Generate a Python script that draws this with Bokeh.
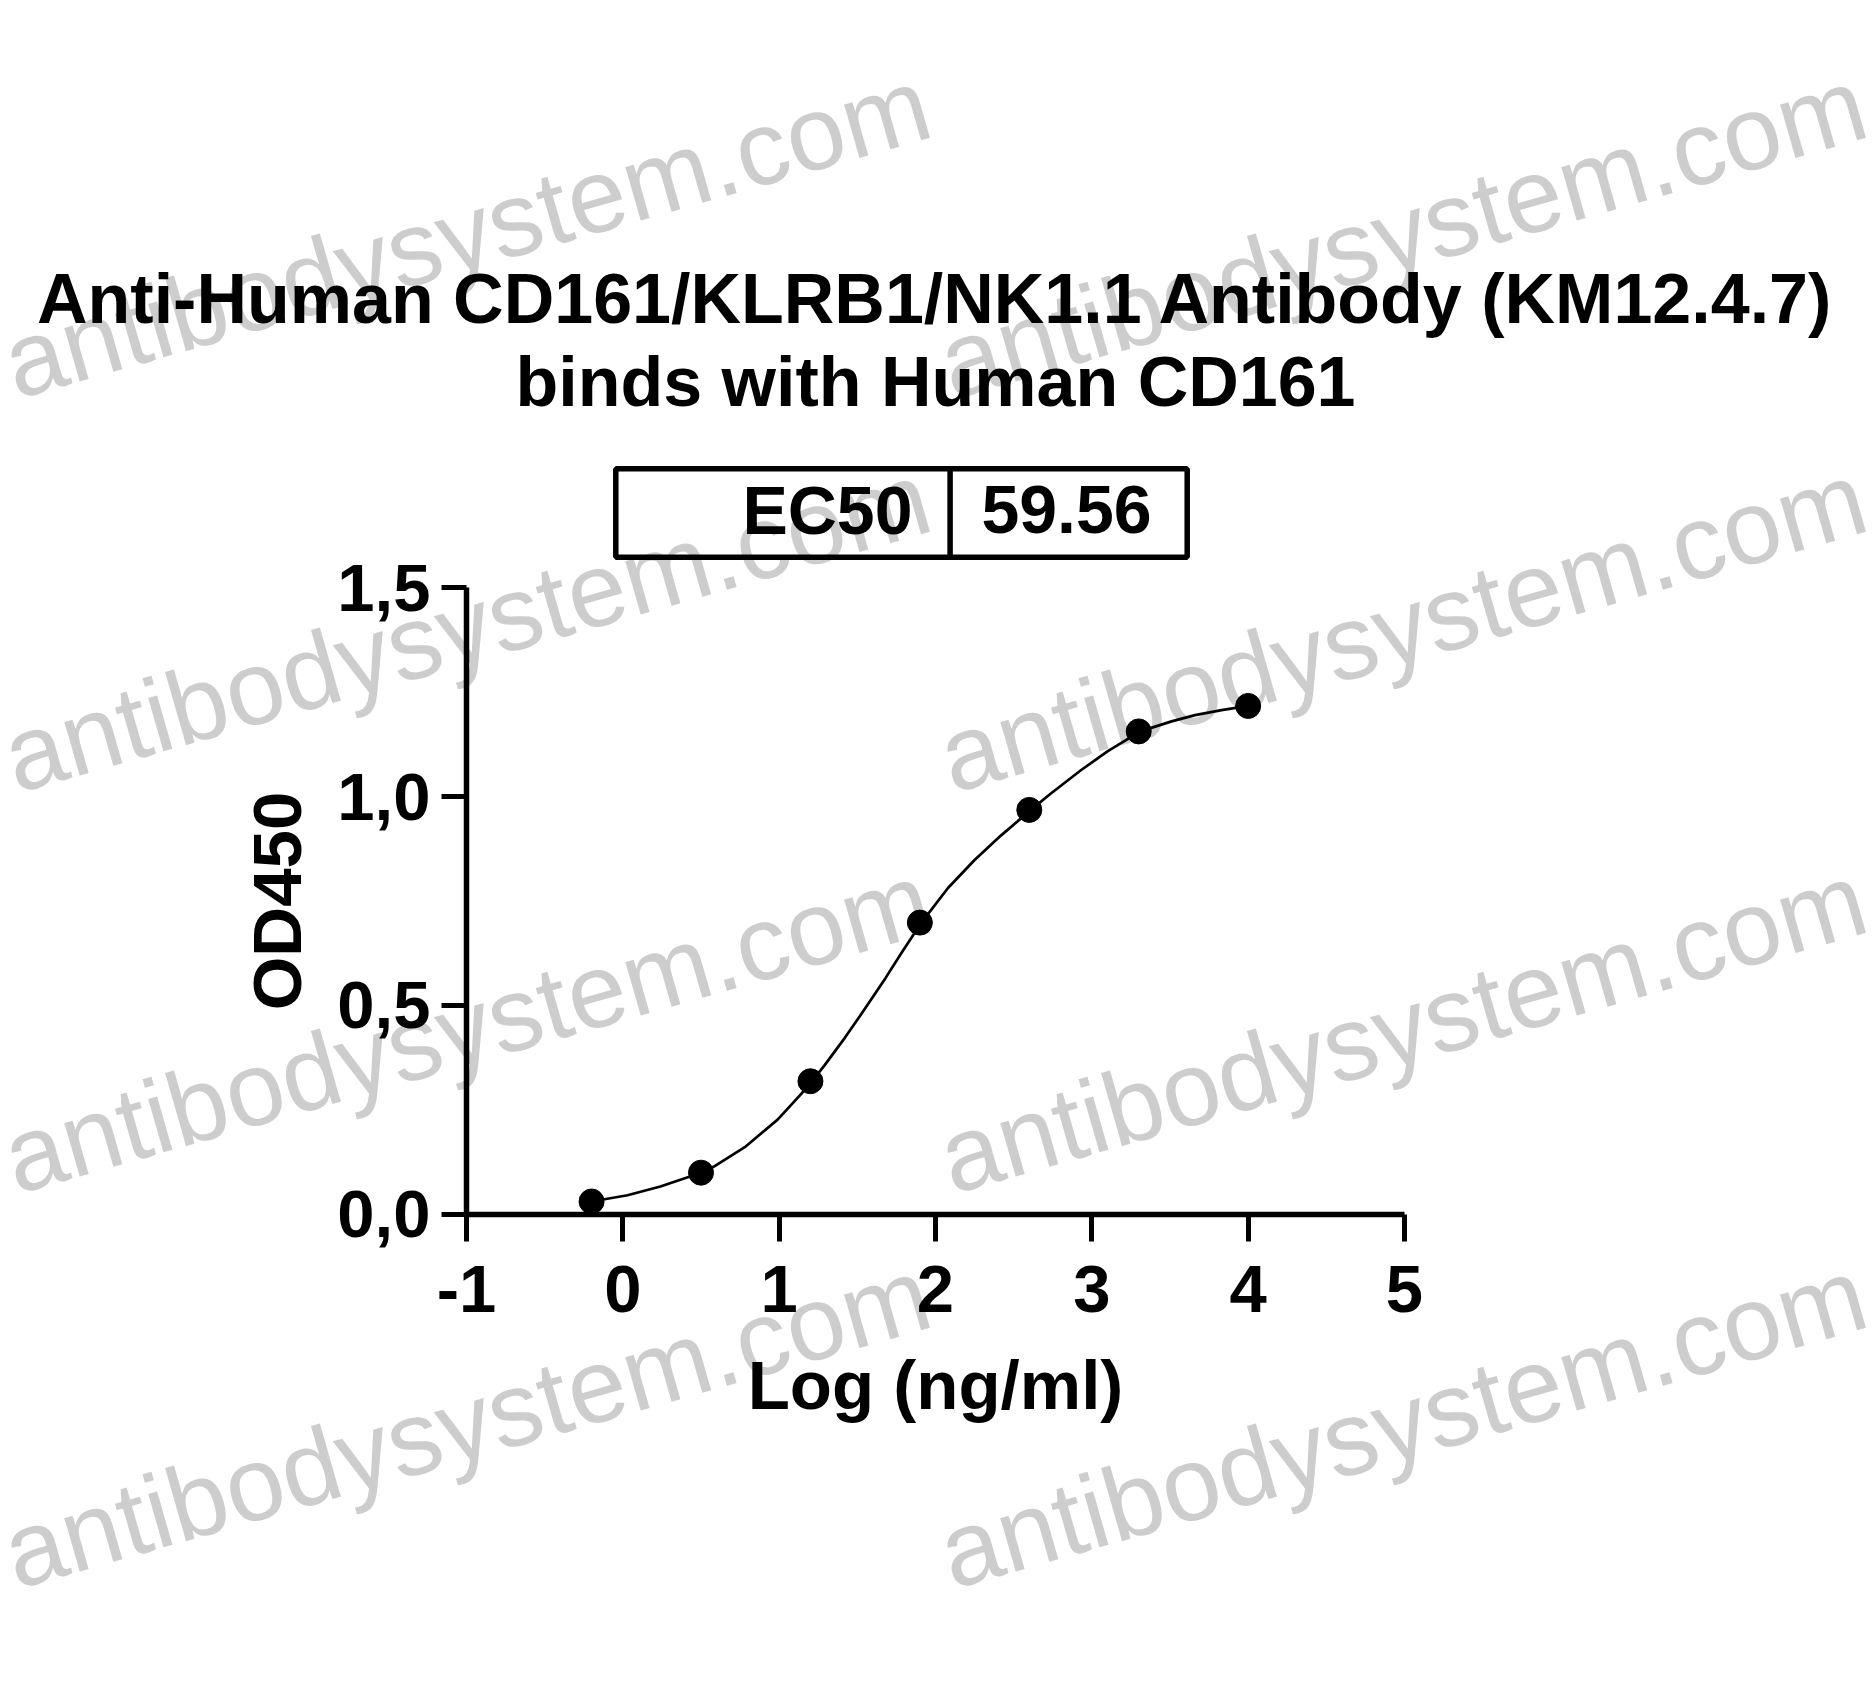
import math
from bokeh.plotting import figure
from bokeh.models import Label, PolyAnnotation, FixedTicker, Range1d
from bokeh.embed import file_html
from bokeh.resources import INLINE

# ---------------- data ----------------
title_lines = ["Anti-Human CD161/KLRB1/NK1.1 Antibody (KM12.4.7)",
               "binds with Human CD161"]
ec50_label = "EC50"
ec50_value = "59.56"
x_label = "Log (ng/ml)"
y_label = "OD450"
watermark = "antibodysystem.com"

point_x = [-0.2, 0.5, 1.2, 1.9, 2.6, 3.3, 4.0]
point_y = [0.030, 0.099, 0.318, 0.698, 0.968, 1.156, 1.217]

# fitted curve
curve_x = [-0.2, 0.03, 0.24, 0.43, 0.5, 0.58, 0.78, 0.99, 1.14, 1.21, 1.29, 1.42,
           1.52, 1.68, 1.78, 1.91, 2.08, 2.25, 2.42, 2.61, 2.74, 2.93, 3.10, 3.31,
           3.51, 3.66, 3.83, 4.0]
curve_y = [0.030, 0.045, 0.066, 0.090, 0.099, 0.113, 0.160, 0.226, 0.287, 0.318, 0.356, 0.422,
           0.476, 0.565, 0.624, 0.698, 0.781, 0.848, 0.907, 0.968, 1.008, 1.063, 1.108, 1.156,
           1.180, 1.195, 1.207, 1.217]

x_ticks = [-1, 0, 1, 2, 3, 4, 5]
x_tick_labels = ["-1", "0", "1", "2", "3", "4", "5"]
y_ticks = [0, 0.5, 1, 1.5]
y_tick_labels = ["0,0", "0,5", "1,0", "1,5"]

# ---------------- layout ----------------
W, H = 1868, 1684
X0, X1, Y0, Y1 = -1, 5, 0, 1.5
AX_L, AX_R, AX_B, AX_T = 466.0, 1404.0, 1213.5, 587.3   # pixel positions of the axes box
SX = (AX_R - AX_L) / (X1 - X0)
SY = (AX_B - AX_T) / (Y1 - Y0)
FONT = "Liberation Sans"

def px2x(px):
    return X0 + (px - AX_L) / SX

def py2y(py):
    return Y0 + (AX_B - py) / SY

p = figure(width=W, height=H,
           x_range=Range1d(px2x(0), px2x(W)), y_range=Range1d(py2y(H), py2y(0)),
           output_backend="svg", toolbar_location=None,
           min_border=0, min_border_left=0, min_border_right=0,
           min_border_top=0, min_border_bottom=0,
           background_fill_color="white", border_fill_color="white",
           outline_line_color=None)
p.grid.visible = False

xa = p.xaxis[0]
ya = p.yaxis[0]
xa.fixed_location = Y0
ya.fixed_location = X0
xa.bounds = (X0, X1)
ya.bounds = (Y0, Y1)
xa.ticker = FixedTicker(ticks=x_ticks)
ya.ticker = FixedTicker(ticks=y_ticks)
xa.major_label_overrides = {t: l for t, l in zip(x_ticks, x_tick_labels)}
ya.major_label_overrides = {t: l for t, l in zip(y_ticks, y_tick_labels)}
xa.axis_label = x_label
ya.axis_label = y_label
for ax in (xa, ya):
    ax.axis_line_width = 5.5
    ax.axis_line_color = "black"
    ax.major_tick_line_width = 5
    ax.major_tick_line_color = "black"
    ax.major_tick_in = 0
    ax.minor_tick_line_color = None
    ax.major_label_text_font = FONT
    ax.major_label_text_font_style = "bold"
    ax.major_label_text_font_size = "67px"
    ax.major_label_text_color = "black"
    ax.axis_label_text_font = FONT
    ax.axis_label_text_font_style = "bold"
    ax.axis_label_text_font_size = "69px"
    ax.axis_label_text_color = "black"
xa.major_tick_out = 27
ya.major_tick_out = 25
xa.major_label_standoff = 25
ya.major_label_standoff = 11
xa.axis_label_standoff = 31
ya.axis_label_standoff = 18

# ---------------- watermarks ----------------
wm_x = [6, 942]
wm_y = [364, 758, 1159, 1554]
for wy in wm_y:
    for wx in wm_x:
        p.add_layout(Label(x=px2x(wx), y=py2y(wy), text=watermark, angle=math.radians(16.0),
                           text_font=FONT, text_font_size="105px", text_color="#cdcdcd",
                           text_align="left", text_baseline="alphabetic", level="underlay"))

# ---------------- data marks ----------------
p.line(curve_x, curve_y, line_width=2.7, line_color="black", line_join="round")
p.scatter(point_x, point_y, size=25, fill_color="black", line_color="black")

# ---------------- title ----------------
for txt, by in zip(title_lines, [298, 381]):
    p.add_layout(Label(x=px2x(935), y=py2y(by), text=txt, text_align="center",
                       text_baseline="alphabetic", text_font=FONT, text_font_style="bold",
                       text_font_size="70px", text_color="black"))

# ---------------- EC50 box ----------------
bl, br, bt, bb, bd = 615.3, 1186.7, 468.3, 556.7, 949.6
p.add_layout(PolyAnnotation(xs=[px2x(bl), px2x(br), px2x(br), px2x(bl)],
                            ys=[py2y(bt), py2y(bt), py2y(bb), py2y(bb)],
                            fill_alpha=0, line_color="black", line_alpha=1.0, line_width=5.5))
p.add_layout(PolyAnnotation(xs=[px2x(bd), px2x(bd)], ys=[py2y(bt), py2y(bb)],
                            fill_alpha=0, line_color="black", line_alpha=1.0, line_width=5.5))
p.add_layout(Label(x=px2x(912), y=py2y(509), text=ec50_label, text_align="right",
                   text_baseline="alphabetic", text_font=FONT, text_font_style="bold",
                   text_font_size="68px", text_color="black"))
p.add_layout(Label(x=px2x(1066), y=py2y(509), text=ec50_value, text_align="center",
                   text_baseline="alphabetic", text_font=FONT, text_font_style="bold",
                   text_font_size="68px", text_color="black"))

open("out.html", "w").write(file_html(p, INLINE))
